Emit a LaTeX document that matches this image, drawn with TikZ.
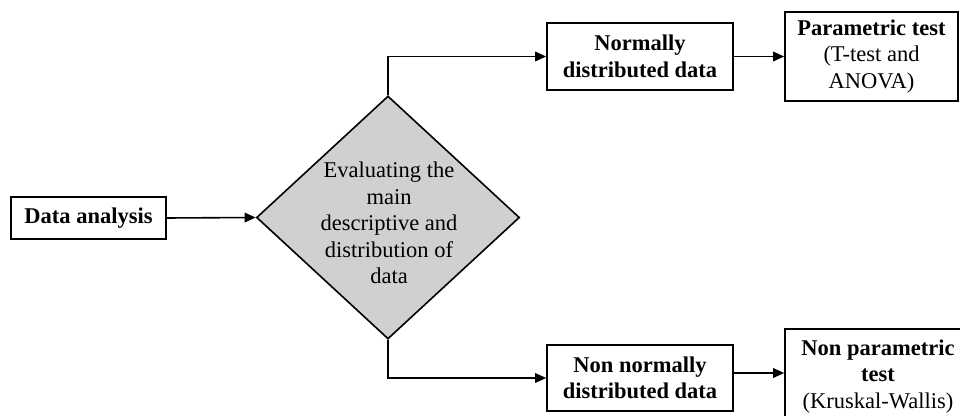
\documentclass[tikz,border=0pt]{standalone}
\usepackage{fontspec}
\setmainfont{Liberation Serif}
\usetikzlibrary{arrows.meta,shapes.geometric,calc}
\definecolor{diagfill}{RGB}{208,208,208}
\begin{document}
\begin{tikzpicture}[x=1pt,y=1pt,
  txt/.style={align=center, inner sep=0pt, font=\fontsize{22.5}{26.5}\selectfont},
  box/.style={txt, draw=black, line width=1.6pt, rectangle},
  arr/.style={line width=1.6pt, -{Triangle[length=11pt,width=9.5pt]}}]
\useasboundingbox (0,0) rectangle (960,415);
\clip (0,0) rectangle (960,415);

\node[box, minimum width=155pt, minimum height=42pt] (da) at (88.5,197) {\bfseries Data analysis};
\node[diamond, draw=black, fill=diagfill, line width=1.6pt, minimum width=263pt, minimum height=243pt, inner sep=0pt] (dia) at (388,197.5) {};
\node[txt] (dtext) at (389,192) {Evaluating the\\main\\descriptive and\\distribution of\\data};
\node[box, minimum width=186pt, minimum height=67pt] (nd) at (640,358.5) {\bfseries Normally\\\bfseries distributed data};
\node[box, minimum width=173pt, minimum height=89pt] (pt) at (871.5,358.5) {\bfseries Parametric test\\(T-test and\\ANOVA)};
\node[box, minimum width=186pt, minimum height=66pt] (nn) at (640,37) {\bfseries Non normally\\\bfseries distributed data};
\node[draw=black, line width=1.6pt, rectangle, minimum width=186pt, minimum height=111pt, inner sep=0pt] (np) at (878,30.5) {};
\node[txt] (nptext) at (878,38.5) {\bfseries Non parametric\\\bfseries test\\(Kruskal-Wallis)};

\draw[arr] (da.east) -- (dia.west);
\draw[arr] (dia.north) |- (nd.west);
\draw[arr] (dia.south) |- (nn.west);
\draw[arr] (nd.east) -- (pt.west);
\coordinate (s1) at ($(nn.east)+(0,5)$);
\draw[arr] (s1) -- (s1 -| np.west);
\end{tikzpicture}
\end{document}
